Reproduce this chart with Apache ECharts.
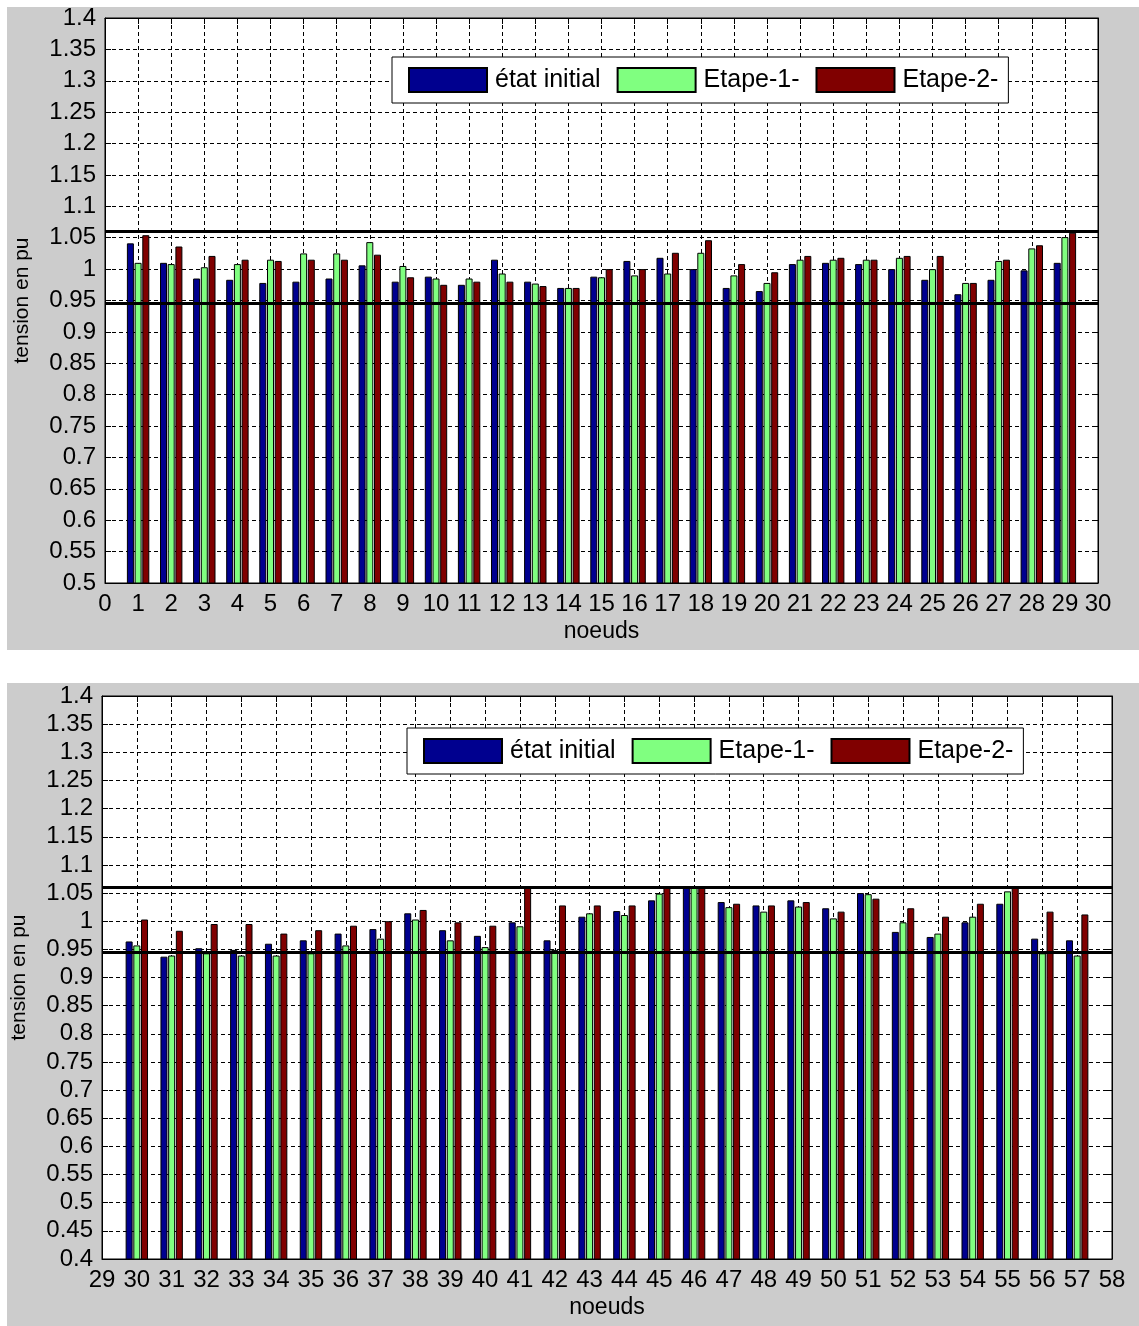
<!DOCTYPE html>
<html>
<head>
<meta charset="utf-8">
<script src="https://cdn.jsdelivr.net/npm/echarts@6/dist/echarts.min.js"></script>
<style>
  html, body { margin: 0; padding: 0; background: #ffffff; }
  #wrap { position: relative; width: 1139px; height: 1326px; }
  .panel { position: absolute; background: #cccccc; }
  #chart { position: absolute; left: 0; top: 0; width: 1139px; height: 1326px; }
</style>
</head>
<body>
<div id="wrap">
  <div class="panel" style="left:7px;top:7px;width:1132px;height:643px;"></div>
  <div class="panel" style="left:7px;top:683px;width:1132px;height:643px;"></div>
  <div id="chart"></div>
</div>
<script>
// ---- tick labels / categories ----
const topTicks = ['0','1','2','3','4','5','6','7','8','9','10','11','12','13','14','15','16','17','18','19','20','21','22','23','24','25','26','27','28','29','30'];
const botTicks = ['29','30','31','32','33','34','35','36','37','38','39','40','41','42','43','44','45','46','47','48','49','50','51','52','53','54','55','56','57','58'];
const seriesNames = ['état initial', 'Etape-1-', 'Etape-2-'];
const limits = [1.06, 0.945];

// ---- nodes 1..29 ----
const topInitial = [1.041,1.010,0.985,0.983,0.978,0.980,0.985,1.006,0.980,0.988,0.975,1.015,0.980,0.970,0.988,1.013,1.018,1.000,0.970,0.965,1.008,1.010,1.008,1.000,0.983,0.960,0.983,0.998,1.010];
const topEtape1  = [1.010,1.008,1.003,1.008,1.015,1.025,1.025,1.043,1.005,0.985,0.985,0.993,0.977,0.970,0.987,0.990,0.993,1.026,0.990,0.978,1.015,1.015,1.015,1.018,1.000,0.978,1.013,1.033,1.051];
const topEtape2  = [1.054,1.036,1.021,1.015,1.013,1.015,1.015,1.023,0.987,0.975,0.980,0.980,0.973,0.970,1.000,1.000,1.026,1.046,1.008,0.995,1.021,1.018,1.015,1.021,1.021,0.978,1.015,1.038,1.058];

// ---- nodes 30..57 ----
const botInitial = [0.964,0.937,0.952,0.949,0.960,0.966,0.978,0.986,1.014,0.984,0.974,0.998,0.966,1.008,1.018,1.037,1.060,1.034,1.028,1.037,1.023,1.050,0.981,0.972,0.998,1.031,0.969,0.966];
const botEtape1  = [0.957,0.939,0.943,0.939,0.939,0.943,0.957,0.969,1.003,0.966,0.954,0.991,0.949,1.014,1.011,1.049,1.060,1.025,1.017,1.026,1.005,1.048,0.998,0.978,1.008,1.053,0.943,0.939];
const botEtape2  = [1.003,0.983,0.995,0.995,0.978,0.984,0.992,1.000,1.020,0.998,0.992,1.060,1.028,1.028,1.028,1.060,1.060,1.031,1.028,1.034,1.017,1.040,1.023,1.008,1.031,1.060,1.017,1.012];

const colors = ['#00008F', '#80FF80', '#800000'];
const FONT = '"Liberation Sans", Arial, sans-serif';

const chart = echarts.init(document.getElementById('chart'), null, { renderer: 'canvas' });

function pad(arr) { return [null].concat(arr, [null]); }

function xAxes(gridIndex, ticks) {
  const base = {
    type: 'category', gridIndex: gridIndex, data: ticks, boundaryGap: false,
    axisLine: { show: true, lineStyle: { color: '#000', width: 1 } },
    axisTick: { show: true, inside: true, length: 6, interval: 0, lineStyle: { color: '#000' } }
  };
  return [
    Object.assign({}, base, {
      position: 'bottom',
      axisLabel: { interval: 0, fontSize: 24, color: '#000', fontFamily: FONT, margin: 9 },
      splitLine: { show: true, interval: 0, lineStyle: { color: '#000', type: [4, 3], width: 1 } },
      name: 'noeuds', nameLocation: 'middle', nameGap: 37,
      nameTextStyle: { fontSize: 23, color: '#000', fontFamily: FONT }
    }),
    Object.assign({}, base, {
      position: 'top', axisLabel: { show: false }, splitLine: { show: false }
    })
  ];
}

function yAxes(gridIndex, min) {
  const base = {
    type: 'value', gridIndex: gridIndex, min: min, max: 1.4, interval: 0.05,
    axisLine: { show: true, lineStyle: { color: '#000', width: 1 } },
    axisTick: { show: true, inside: true, length: 6, lineStyle: { color: '#000' } }
  };
  return [
    Object.assign({}, base, {
      position: 'left',
      axisLabel: { fontSize: 24, color: '#000', fontFamily: FONT, margin: 9,
        formatter: v => String(parseFloat(v.toFixed(2))) },
      splitLine: { show: true, lineStyle: { color: '#000', type: [4, 3], width: 1 } },
      name: 'tension en pu', nameLocation: 'middle', nameGap: 72,
      nameTextStyle: { fontSize: 21, color: '#000', fontFamily: FONT }
    }),
    Object.assign({}, base, {
      position: 'right', axisLabel: { show: false }, splitLine: { show: false }
    })
  ];
}

function barSeries(values, xIdx, yIdx, withLimits) {
  return values.map((vals, i) => {
    const s = {
      name: seriesNames[i], type: 'bar', xAxisIndex: xIdx, yAxisIndex: yIdx,
      data: pad(vals), barWidth: 7, barGap: '10%', clip: true,
      itemStyle: { color: colors[i], borderColor: '#000', borderWidth: 1 },
      emphasis: { disabled: true }, animation: false
    };
    if (i === 0 && withLimits) {
      s.markLine = {
        symbol: 'none', silent: true, animation: false, z: 10, precision: 4,
        label: { show: false },
        lineStyle: { color: '#000', width: 3, type: 'solid' },
        data: limits.map(v => ({ yAxis: v }))
      };
    }
    return s;
  });
}

function legend(left, top) {
  return {
    left: left, top: top, orient: 'horizontal',
    data: seriesNames, icon: 'rect',
    itemWidth: 78, itemHeight: 24, itemGap: 16,
    padding: [10, 10, 10, 16],
    backgroundColor: '#fff', borderColor: '#000', borderWidth: 1, borderRadius: 0,
    textStyle: { fontSize: 25, color: '#000', fontFamily: FONT, padding: [0, 0, 0, 3] },
    selectedMode: false
  };
}

const option = {
  animation: false,
  color: colors,
  grid: [
    { left: 105, top: 18, width: 993, height: 565, show: true, backgroundColor: '#fff', borderColor: '#000', borderWidth: 1 },
    { left: 102, top: 696, width: 1010, height: 563, show: true, backgroundColor: '#fff', borderColor: '#000', borderWidth: 1 }
  ],
  xAxis: xAxes(0, topTicks).concat(xAxes(1, botTicks)),
  yAxis: yAxes(0, 0.5).concat(yAxes(1, 0.4)),
  legend: [legend(392, 57), legend(407, 728)],
  series: barSeries([topInitial, topEtape1, topEtape2], 0, 0, true)
    .concat(barSeries([botInitial, botEtape1, botEtape2], 2, 2, true))
};

chart.setOption(option);
</script>
</body>
</html>
